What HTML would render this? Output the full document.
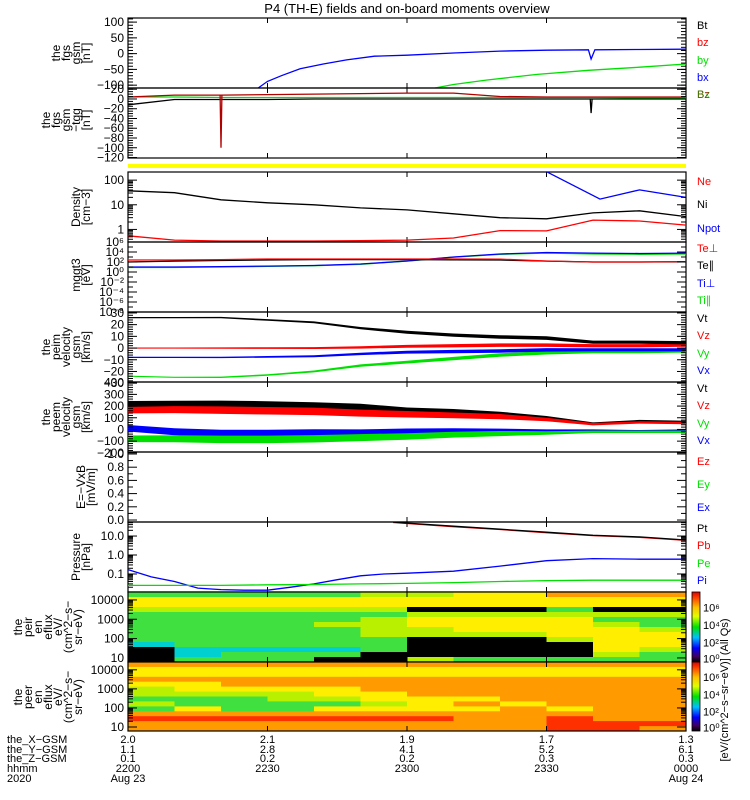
<!DOCTYPE html>
<html><head><meta charset="utf-8"><style>
html,body{margin:0;padding:0;background:#fff;}
svg{display:block;font-family:"Liberation Sans",sans-serif;}
</style></head><body>
<svg id="chart" width="750" height="800" viewBox="0 0 750 800" xmlns="http://www.w3.org/2000/svg">
<defs>
<linearGradient id="cbar" x1="0" y1="1" x2="0" y2="0">
<stop offset="0" stop-color="#000"/><stop offset="0.08" stop-color="#400060"/><stop offset="0.2" stop-color="#0000ff"/><stop offset="0.35" stop-color="#00c0ff"/><stop offset="0.5" stop-color="#00e000"/><stop offset="0.65" stop-color="#e0ff00"/><stop offset="0.78" stop-color="#ffc000"/><stop offset="0.9" stop-color="#ff5000"/><stop offset="1" stop-color="#e00000"/>
</linearGradient>
</defs>
<text x="407" y="13" text-anchor="middle" font-size="13">P4 (TH-E) fields and on-board moments overview</text>
<g id="layer"></g>
</svg>
<script>
// ---------- data ----------
const tSteps = [0,10,20,30,40,50,60,70,80,90,100,110,120];
const bxTimes = [28,30,33,37,42,47,53,60,70,80,90,99,99.6,100.4,110,120];
const bxVals = [-109,-88,-70,-48,-33,-20,-8,-5,2,8,11,12,-17,12,13,14];
const byTimes = [66,70,77,88,99,110,120];
const byVals = [-109,-98,-84,-66,-53,-43,-33];
const tggRed = [4,8,8,9,10,11,12,12,5,4,4,4,4];
const tggGreen = [4,4,3,3,3,3,3,3,3,3,3,2,2];
const tggBlack = [-12,-1,-1,-1,0,0,0,0,0,0,0,0,0];
const niVals = [37,31,16,12,10,7.5,6.2,4.3,3.0,2.7,4.7,5.7,3.3];
const neVals = [0.55,0.37,0.34,0.34,0.34,0.35,0.37,0.45,0.9,0.87,2.4,2.2,1.5];
const npotTimes = [90,101.5,110,120];
const npotVals = [220,17,40,20];
const tePerp = [250,250,300,400,400,400,400,400,380,160,100,100,120];
const tePar = [100,150,200,250,300,300,300,280,250,150,100,100,110];
const tiPerp = [10,10,12,15,20,40,160,1000,4000,8000,6000,5000,6000];
const tiPar = [8,8,10,13,18,35,150,900,3500,6000,4000,3500,4000];
const vtI = [26,26,26,24,22,17,13.5,11,9.5,8.5,5,5,4.5];
const vzI = [0,0,0,0,0,0.5,1.5,2,2.5,2.5,2,2,2.5];
const vxI = [-8,-8,-8,-7.5,-7,-5,-3.5,-3,-2.5,-1.5,-1.5,-1.5,-1.5];
const vyI = [-24,-25,-25,-23,-20,-15,-12,-9,-6,-4,-3,-3,-2.5];
const spreadI = [0.5,0.5,0.6,0.7,0.8,1,1.2,1.4,1.5,1.5,1.4,1.4,1.4];
const vtE = [215,215,215,210,200,190,160,150,130,100,50,72,65];
const vzE = [165,170,165,160,155,140,130,120,110,85,45,60,55];
const vxE = [10,-20,-35,-35,-30,-30,-20,-15,-15,-15,-10,-15,-10];
const vyE = [-80,-80,-85,-85,-80,-70,-60,-45,-35,-30,-20,-20,-20];
const spreadE = [28,30,32,32,32,30,28,25,22,15,10,10,10];
const ptTimes = [57,60,70,80,90,100,110,120];
const ptVals = [54,48,33,23,16,11,9,6.2];
const pbVals = [52,46,31,22,15,10.5,8.5,5.9];
const piTimes = [0,5,10,15,20,25,30,35,40,45,50,55,60,70,80,90,100,110,120];
const piVals = [0.17,0.07,0.04,0.018,0.015,0.014,0.014,0.02,0.03,0.05,0.08,0.1,0.11,0.14,0.26,0.5,0.65,0.6,0.6];
const peVals = [0.025,0.025,0.025,0.027,0.028,0.03,0.032,0.035,0.04,0.045,0.047,0.047,0.047];
const specTimes = [0,10,20,30,40,50,60,70,80,90,100,110];
// energy bins top (high) -> bottom (low)
const peirLevels = ["gyylggggggckkk","gyylgggggggccg","gyylgggggggcgg","gyylgggggggcgg","gyylgglggggcgk","lyylgllllgggkk","lyyklyyllkkkkl","yyyklyyylkkkkg","yyyklyyylkkkkg","oyyglyyyylkkkg","oyyklglyyyyylg","oyyklgglyyylgg"];
const peerLevels = ["oyyoyllglgoroo","oyyoyylggyoroo","oyyooylgggoroo","oyyooyllggoroo","oyyooyylgyoroo","oyyoooyylyoroo","oyyooooyyyoroo","oyyooooyoyoooo","oyyoooooyooooo","oyyooooooyorrr","oyyooooooooorr","oyyoooooooooro"];
const levelColors = {k:"#000000",b:"#2040ff",c:"#00d0d0",g:"#40e040",l:"#b8f000",y:"#ffee00",o:"#ff9a00",r:"#ff3000"};
const xTickLabels = ["2200","2230","2300","2330","0000"];
const xGsm = ["2.0","2.1","1.9","1.7","1.3"];
const yGsm = ["1.1","2.8","4.1","5.2","6.1"];
const zGsm = ["0.1","0.2","0.2","0.3","0.3"];

// ---------- helpers ----------
const NS="http://www.w3.org/2000/svg";
const layer=document.getElementById('layer');
const X0=128,X1=686;
function xs(t){return X0+(X1-X0)*t/120;}
function mk(tag,attrs,parent){const e=document.createElementNS(NS,tag);for(const k in attrs)e.setAttribute(k,attrs[k]);(parent||layer).appendChild(e);return e;}
function linY(top,bot,vmax,vmin){return v=>top+(vmax-v)/(vmax-vmin)*(bot-top);}
function logY(top,bot,lmax,lmin){return v=>top+(lmax-Math.log10(v))/(lmax-lmin)*(bot-top);}
function line(times,vals,ys,color,name){
  const d=times.map((t,i)=>(i?'L':'M')+xs(t).toFixed(1)+' '+ys(vals[i]).toFixed(1)).join(' ');
  const p=mk('path',{d:d,fill:'none',stroke:color,'stroke-width':1.3});
  
  
}
function band(times,vals,spread,ys,color,name){
  let up=times.map((t,i)=>xs(t).toFixed(1)+','+ys(vals[i]+spread[i]).toFixed(1));
  let dn=times.map((t,i)=>xs(t).toFixed(1)+','+ys(vals[i]-spread[i]).toFixed(1)).reverse();
  const p=mk('polygon',{points:up.concat(dn).join(' '),fill:color});
  
  
}
function txt(x,y,s,opts){const e=mk('text',Object.assign({x:x,y:y,'font-size':11},opts||{}));e.textContent=s;return e;}
function panelFrame(top,bot,name){
  const r=mk('rect',{x:X0,y:top,width:X1-X0,height:bot-top,fill:'none',stroke:'#000','stroke-width':1.2});
  
  
  for(let i=1;i<4;i++){const x=xs(i*30);mk('line',{x1:x,y1:top,x2:x,y2:top+5,stroke:'#000'});mk('line',{x1:x,y1:bot,x2:x,y2:bot-5,stroke:'#000'});}
}
function yTicks(ticks,labels,ys,minors){
  ticks.forEach((v,i)=>{const y=ys(v);
    mk('line',{x1:X0,y1:y,x2:X0+9,y2:y,stroke:'#000'});mk('line',{x1:X1,y1:y,x2:X1-9,y2:y,stroke:'#000'});
    const t=txt(124,y+4,labels[i],{'text-anchor':'end','font-size':12});
    
    
  });
  (minors||[]).forEach(v=>{const y=ys(v);mk('line',{x1:X0,y1:y,x2:X0+5,y2:y,stroke:'#000'});mk('line',{x1:X1,y1:y,x2:X1-5,y2:y,stroke:'#000'});});
}
function yTitle(lines,cy,xstart,name){
  const g=mk('g',{});
  
  
  lines.forEach((s,i)=>{const x=xstart+i*10;const t=txt(x,cy,s,{transform:'rotate(-90 '+x+' '+cy+')','text-anchor':'middle','font-size':12},);g.appendChild(t);});
}
function legend(items,name){
  items.forEach(it=>{const t=txt(697,it[1]+4,it[0],{fill:it[2],'font-size':11});
    
    });
}
function range(a,b,s){const r=[];for(let v=a;v<=b+1e-9;v+=s)r.push(v);return r;}
function logMinors(lo,hi){const r=[];for(let d=lo;d<hi;d++)for(let m=2;m<10;m++){r.push(m*Math.pow(10,d));}return r;}

// ---------- panel 1: fgs gsm ----------
{const ys=linY(18,88,113,-109);
panelFrame(18,88,'fgs-panel');
line(bxTimes,bxVals,ys,'#0000ff','bx-line');
line(byTimes,byVals,ys,'#00e000','by-line');
yTicks([100,50,0,-50,-100],['100','50','0','\u221250','\u2212100'],ys,range(-100,110,10));
yTitle(['the','fgs','gsm','[nT]'],53,60,'fgs-y-title');
legend([['Bt',25,'#000'],['bz',42,'#ff0000'],['by',60,'#00e000'],['bx',77,'#0000ff']],'fgs-legend');}

// ---------- panel 2: fgs tgg ----------
{const ys=linY(88,158,22.5,-121);
panelFrame(88,158,'tgg-panel');
line(tSteps,tggGreen,ys,'#00e000','tgg-by-line');
line(tSteps,tggBlack,ys,'#000','tgg-bx-line');
line(tSteps,tggRed,ys,'#b00000','tgg-bz-line');
line([19.8,20,20.2],[8,-100,8],ys,'#b00000','tgg-bz-spike');
line([99.4,99.6,99.8],[0,-29,0],ys,'#000','tgg-bx-spike');
yTicks([20,0,-20,-40,-60,-80,-100,-120],['20','0','\u221220','\u221240','\u221260','\u221280','\u2212100','\u2212120'],ys,range(-120,20,5));
yTitle(['the','fgs','gsm','\u2212tgg','[nT]'],120,50,'tgg-y-title');
legend([['Bz',94,'#b00000']],'tgg-legend');
txt(697,98,'Bx',{fill:'#00c000','font-size':11,opacity:0.6});}

// yellow status bar
{const r=mk('rect',{x:X0,y:164,width:X1-X0,height:4,fill:'#ffff00'});

}

// ---------- panel 3: density ----------
{const ys=logY(172,242,2.33,-0.51);
panelFrame(172,242,'density-panel');
line(tSteps,niVals,ys,'#000','ni-line');
line(tSteps,neVals,ys,'#ff0000','ne-line');
line(npotTimes,npotVals,ys,'#0000ff','npot-line');
yTicks([100,10,1],['100','10','1'],ys,logMinors(-1,2).filter(v=>v>0.31&&v<210));
yTitle(['Density','[cm\u22123]'],207,80,'density-y-title');
legend([['Ne',181,'#ff0000'],['Ni',204,'#000'],['Npot',228,'#0000ff']],'density-legend');}

// ---------- panel 4: temperature ----------
{const ys=logY(242,312,6,-8);
panelFrame(242,312,'temperature-panel');
line(tSteps,tiPar,ys,'#00e000','ti-par-line');
line(tSteps,tiPerp,ys,'#0000ff','ti-perp-line');
line(tSteps,tePar,ys,'#000','te-par-line');
line(tSteps,tePerp,ys,'#ff0000','te-perp-line');
const tk=[1e6,1e4,1e2,1,1e-2,1e-4,1e-6,1e-8];
yTicks(tk,['10\u2076','10\u2074','10\u00b2','10\u2070','10\u207b\u00b2','10\u207b\u2074','10\u207b\u2076','10\u207b\u2078'],ys,[1e5,1e3,10,0.1,1e-3,1e-5,1e-7]);
yTitle(['mggt3','[eV]'],275,80,'temperature-y-title');
legend([['Te\u22a5',248,'#ff0000'],['Te\u2225',265,'#000'],['Ti\u22a5',283,'#0000ff'],['Ti\u2225',300,'#00e000']],'temperature-legend');}

// ---------- panel 5: peim velocity ----------
{const ys=linY(312,382,30.8,-29);
panelFrame(312,382,'peim-velocity-panel');
band(tSteps,vyI,spreadI,ys,'#00e000','vy-ion-band');
band(tSteps,vxI,spreadI,ys,'#0000ff','vx-ion-band');
band(tSteps,vzI,spreadI,ys,'#ff0000','vz-ion-band');
band(tSteps,vtI,spreadI,ys,'#000','vt-ion-band');
yTicks([30,20,10,0,-10,-20,-30],['30','20','10','0','\u221210','\u221220','\u221230'],ys,range(-28,30,2));
yTitle(['the','peim','velocity','gsm','[km/s]'],347,50,'peim-y-title');
legend([['Vt',318,'#000'],['Vz',335,'#ff0000'],['Vy',353,'#00e000'],['Vx',370,'#0000ff']],'peim-legend');}

// ---------- panel 6: peem velocity ----------
{const ys=linY(382,452,406,-193);
panelFrame(382,452,'peem-velocity-panel');
band(tSteps,vtE,spreadE,ys,'#000','vt-electron-band');
band(tSteps,vzE,spreadE,ys,'#ff0000','vz-electron-band');
band(tSteps,vxE,spreadE,ys,'#0000ff','vx-electron-band');
band(tSteps,vyE,spreadE,ys,'#00e000','vy-electron-band');
yTicks([400,300,200,100,0,-100,-200],['400','300','200','100','0','\u2212100','\u2212200'],ys,range(-180,400,20));
yTitle(['the','peem','velocity','gsm','[km/s]'],417,50,'peem-y-title');
legend([['Vt',388,'#000'],['Vz',405,'#ff0000'],['Vy',423,'#00e000'],['Vx',440,'#0000ff']],'peem-legend');}

// ---------- panel 7: E field ----------
{const ys=linY(452,522,1.03,-0.03);
panelFrame(452,522,'efield-panel');
yTicks([1,0.8,0.6,0.4,0.2,0],['1.0','0.8','0.6','0.4','0.2','0.0'],ys,range(0.1,0.9,0.2));
yTitle(['E=\u2212VxB','[mV/m]'],487,85,'efield-y-title');
legend([['Ez',461,'#ff0000'],['Ey',484,'#00e000'],['Ex',507,'#0000ff']],'efield-legend');}

// ---------- panel 8: pressure ----------
{const ys=logY(522,592,1.74,-1.95);
panelFrame(522,592,'pressure-panel');
line(piTimes,piVals,ys,'#0000ff','pi-line');
line(tSteps,peVals,ys,'#00e000','pe-line');
line(ptTimes,pbVals,ys,'#ff0000','pb-line');
line(ptTimes,ptVals,ys,'#000','pt-line');
yTicks([10,1,0.1],['10.0','1.0','0.1'],ys,logMinors(-2,2).filter(v=>v>0.012&&v<54));
yTitle(['Pressure','[nPa]'],557,80,'pressure-y-title');
legend([['Pt',528,'#000'],['Pb',545,'#ff0000'],['Pe',563,'#00e000'],['Pi',580,'#0000ff']],'pressure-legend');}

// ---------- spectrograms ----------
function spectro(top,bot,levels,name){
  const nE=levels[0].length;const h=(bot-top)/nE;
  const g=mk('g',{});
  
  
  specTimes.forEach((t,i)=>{const x0=xs(t);const x1=xs(i+1<specTimes.length?specTimes[i+1]:120);
    for(let j=0;j<nE;j++){const c=levelColors[levels[i][j]];
      const r=mk('rect',{x:x0.toFixed(1),y:(top+j*h).toFixed(1),width:(x1-x0+0.5).toFixed(1),height:(h+0.5).toFixed(1),fill:c},g);
      
      }});
  panelFrame(top,bot,name+'-frame');
  const ys=logY(top,bot,4.41,0.79);
  yTicks([1e4,1e3,100,10],['10000','1000','100','10'],ys,logMinors(1,4).filter(v=>v<25000));
}
spectro(592,662,peirLevels,'peir-spectrogram');
yTitle(['the','peir','en','eflux','eV/','(cm^2\u2212s\u2212','sr\u2212eV)'],627,22,'peir-y-title');
spectro(662,731,peerLevels,'peer-spectrogram');
yTitle(['the','peer','en','eflux','eV/','(cm^2\u2212s\u2212','sr\u2212eV)'],697,22,'peer-y-title');

// colorbars
[[592,662,'peir-colorbar'],[662,731,'peer-colorbar']].forEach(c=>{
  const r=mk('rect',{x:692,y:c[0],width:8,height:c[1]-c[0],fill:'url(#cbar)',stroke:'#000','stroke-width':0.8});
  
  
  const h=c[1]-c[0];
  [['10\u2076',0.22],['10\u2074',0.47],['10\u00b2',0.72],['10\u2070',0.95]].forEach(l=>{const t=txt(703,c[0]+h*l[1]+4,l[0],{'font-size':11});
    
    });
});
{const t=txt(728,690,'[eV/(cm^2\u2212s\u2212sr\u2212eV)] (All Qs)',{transform:'rotate(-90 728 690)','text-anchor':'middle','font-size':11});

}

// ---------- bottom axis ----------
const rowY=[743,753,762,772,782];
['the_X\u2212GSM','the_Y\u2212GSM','the_Z\u2212GSM','hhmm','2020'].forEach((s,i)=>{const t=txt(7,rowY[i],s,{'font-size':11});
  
  });
xTickLabels.forEach((s,i)=>{const x=xs(i*30);
  [xGsm[i],yGsm[i],zGsm[i],s].forEach((v,k)=>{const t=txt(x,rowY[k],v,{'text-anchor':'middle','font-size':11});
    
    });
});
[[0,'Aug 23'],[4,'Aug 24']].forEach(d=>{const t=txt(xs(d[0]*30),782,d[1],{'text-anchor':'middle','font-size':11});
  
  });
</script>
</body></html>
